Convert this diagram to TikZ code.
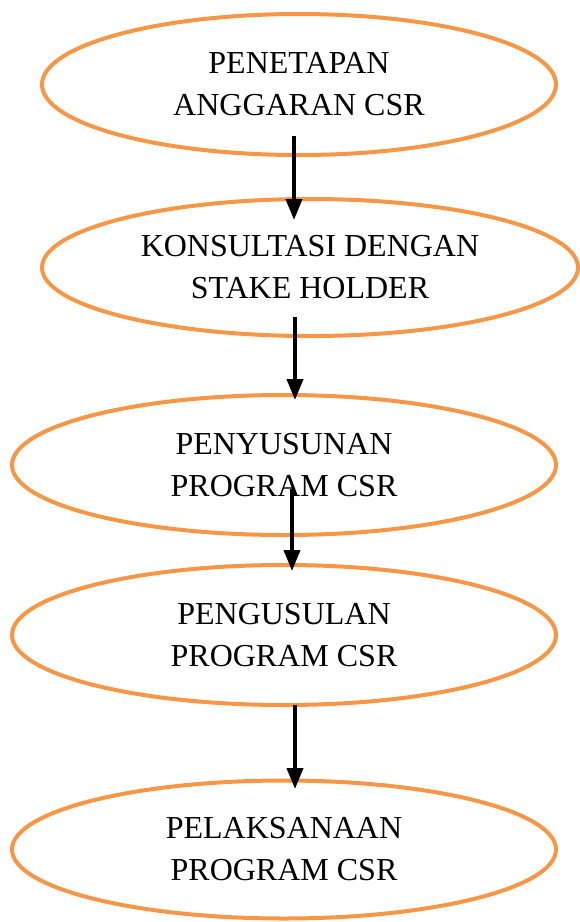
\documentclass[tikz,border=0pt]{standalone}
\usepackage{fontspec}
\setmainfont{Liberation Serif}
\usetikzlibrary{shapes.geometric,arrows.meta}
\definecolor{wordorange}{HTML}{F79646}
\begin{document}
\begin{tikzpicture}[x=1pt,y=-1pt,
  stage/.style={ellipse,draw=wordorange,line width=4pt,inner sep=0pt,
    align=center,font=\fontsize{32}{42}\selectfont},
  flow/.style={line width=4pt,-{Triangle[width=16pt,length=21pt]}}]
\useasboundingbox (0,0) rectangle (580,922);
\node[stage,minimum width=514pt,minimum height=141pt] (e1) at (299,84.5) {PENETAPAN\\ANGGARAN CSR};
\node[stage,minimum width=536pt,minimum height=137pt] (e2) at (310,267.5) {KONSULTASI DENGAN\\STAKE HOLDER};
\node[stage,minimum width=544pt,minimum height=140pt] (e3) at (284,465) {PENYUSUNAN\\PROGRAM CSR};
\node[stage,minimum width=544pt,minimum height=140pt] (e4) at (284,635) {PENGUSULAN\\PROGRAM CSR};
\node[stage,minimum width=544pt,minimum height=138pt] (e5) at (284,849.5) {PELAKSANAAN\\PROGRAM CSR};
\coordinate (a1s) at (294,136);
\coordinate (a1e) at (294,220);
\coordinate (a2s) at (295,317);
\coordinate (a2e) at (295,400);
\coordinate (a3s) at (292,489);
\coordinate (a3e) at (292,571);
\coordinate (a4s) at (295,705);
\coordinate (a4e) at (295,789);
\draw[flow] (a1s) -- (a1e);
\draw[flow] (a2s) -- (a2e);
\draw[flow] (a3s) -- (a3e);
\draw[flow] (a4s) -- (a4e);
\end{tikzpicture}
\end{document}
